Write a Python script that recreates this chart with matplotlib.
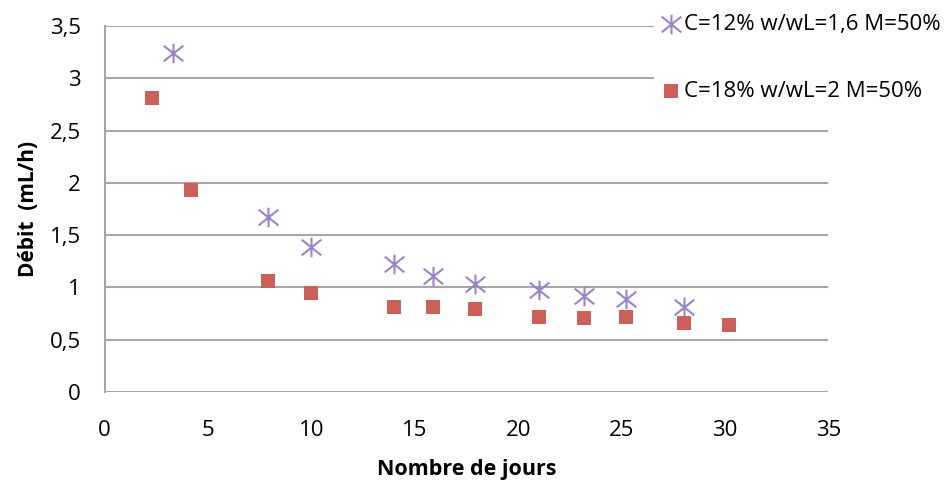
import matplotlib
matplotlib.use("Agg")
import matplotlib.pyplot as plt
from matplotlib.ticker import FuncFormatter
from matplotlib.path import Path

plt.rcParams['font.family'] = ['Open Sans', 'DejaVu Sans']

# Data
days_12 = [3.3, 7.9, 10.0, 14.0, 15.9, 17.9, 21.0, 23.2, 25.2, 28.0]
debit_12 = [3.24, 1.67, 1.39, 1.22, 1.11, 1.03, 0.98, 0.92, 0.89, 0.81]
days_18 = [2.3, 4.2, 7.9, 10.0, 14.0, 15.9, 17.9, 21.0, 23.2, 25.2, 28.0, 30.2]
debit_18 = [2.81, 1.93, 1.06, 0.95, 0.81, 0.81, 0.79, 0.72, 0.71, 0.72, 0.66, 0.64]
labels = ["C=12% w/wL=1,6 M=50%", "C=18% w/wL=2 M=50%"]
x_ticks = [0, 5, 10, 15, 20, 25, 30, 35]
y_ticks = [0, 0.5, 1, 1.5, 2, 2.5, 3, 3.5]

star = Path([(0, -1), (0, 1), (-1, -0.8), (1, 0.8), (-1, 0.8), (1, -0.8)],
            [Path.MOVETO, Path.LINETO, Path.MOVETO, Path.LINETO, Path.MOVETO, Path.LINETO])

fig = plt.figure(figsize=(9.51, 4.84), dpi=100)
ax = fig.add_axes([0.110, 0.190, 0.761, 0.756])

grid_c = '#a6a6a6'
ax.set_xlim(0, 35)
ax.set_ylim(0, 3.5)
ax.set_xticks(x_ticks)
ax.set_yticks(y_ticks)
ax.yaxis.set_major_formatter(FuncFormatter(lambda v, p: ('%g' % v).replace('.', ',')))
ax.grid(axis='y', color=grid_c, linewidth=1.5)
ax.set_axisbelow(True)
for s in ['top', 'right', 'bottom']:
    ax.spines[s].set_visible(False)
ax.spines['left'].set_color(grid_c)
ax.spines['left'].set_linewidth(1.5)
ax.tick_params(axis='both', length=0, labelsize=16, colors='#000000')
ax.tick_params(axis='x', pad=20)
ax.tick_params(axis='y', pad=17)

s1 = ax.scatter(days_12, debit_12, marker=star, s=200, color='#9a83c8',
                linewidths=1.5, label=labels[0], zorder=3)
s2 = ax.scatter(days_18, debit_18, marker='s', s=95, color='#cc5f57',
                linewidths=0, label=labels[1], zorder=3)

ax.set_xlabel("Nombre de jours", fontsize=15.5, fontweight='bold', labelpad=13)
ax.set_ylabel("Débit  (mL/h)", fontsize=15, fontweight='bold', labelpad=8)

leg = fig.legend(handles=[s1, s2], loc='upper left', bbox_to_anchor=(0.676, 1.003),
                 frameon=True, fontsize=16, handletextpad=0.05, labelspacing=2.05,
                 borderpad=0.2, handlelength=1.1, scatterpoints=1)
leg.get_frame().set_edgecolor('none')
leg.get_frame().set_facecolor('white')
leg.get_frame().set_alpha(1)

fig.savefig("out.png", dpi=100)
